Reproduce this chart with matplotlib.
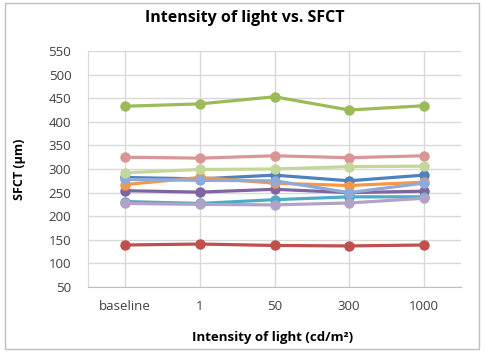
import matplotlib
matplotlib.use("Agg")
import matplotlib.pyplot as plt
from matplotlib.patches import Rectangle

categories = ["baseline", "1", "50", "300", "1000"]
s_blue = [282, 279, 287, 275, 287]
s_red = [139, 141, 138, 137, 139]
s_green = [433, 438, 453, 425, 434]
s_purple = [254, 251, 257, 250, 253]
s_teal = [231, 227, 235, 241, 241]
s_orange = [267, 282, 270, 265, 272]
s_lightblue = [278, 276, 275, 250, 270]
s_pink = [325, 323, 328, 324, 328]
s_lightgreen = [292, 299, 300, 305, 306]
s_lavender = [227, 225, 224, 228, 238]

series = [s_blue, s_red, s_green, s_purple, s_teal, s_orange,
          s_lightblue, s_pink, s_lightgreen, s_lavender]
colors = ["#4F81BD", "#C0504D", "#9BBB59", "#8064A2", "#4BACC6", "#F79646",
          "#8EAADB", "#D99694", "#C3D69B", "#B3A2C7"]

plt.rcParams['font.family'] = ['Open Sans', 'DejaVu Sans']

fig = plt.figure(figsize=(4.87, 3.56), dpi=100)
ax = fig.add_axes([88/487, 1-287/356, (461-88)/487, (287-51)/356])

x = list(range(len(categories)))
for vals, c in zip(series, colors):
    ax.plot(x, vals, color=c, lw=2.3, marker='o', markersize=6.5, zorder=3)

ax.set_xlim(-0.5, 4.5)
ax.set_ylim(50, 550)
ax.set_yticks(range(50, 551, 50))
ax.set_xticks(x)
ax.set_xticklabels(categories)
ax.grid(True, color="#D9D9D9", lw=1)
ax.set_axisbelow(True)
for sp in ["top", "right"]:
    ax.spines[sp].set_visible(False)
ax.spines["left"].set_color("#D9D9D9")
ax.spines["bottom"].set_color("#BFBFBF")
ax.tick_params(length=0, labelsize=9.5, colors="#404040")
ax.tick_params(axis='y', pad=12)
ax.tick_params(axis='x', pad=9)

fig.text(245/487, 1 - 18/356, "Intensity of light vs. SFCT",
         fontsize=11.5, fontweight='bold', ha='center', va='center')
fig.text(20/487, 1 - 169/356, "SFCT (μm)", fontsize=9, fontweight='bold',
         rotation=90, ha='center', va='center')
fig.text(273/487, 1 - 338/356, "Intensity of light (cd/m²)", fontsize=9.5,
         fontweight='bold', ha='center', va='center')

fig.patches.append(Rectangle((5/487, 1-349/356), 474/487, 346/356, transform=fig.transFigure,
                             fill=False, edgecolor="#BFBFBF", lw=1))
fig.savefig("out.png", dpi=100, facecolor="white")
